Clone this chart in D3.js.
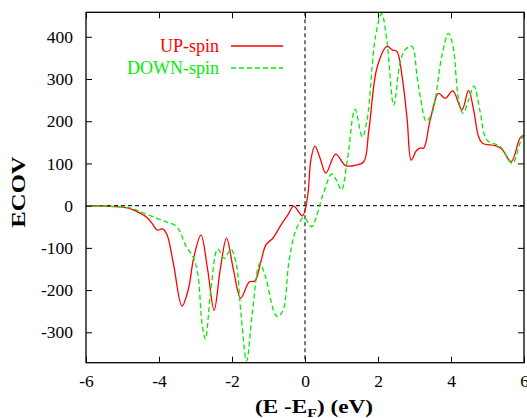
<!DOCTYPE html>
<html>
<head>
<meta charset="utf-8">
<script src="https://cdn.jsdelivr.net/npm/d3@7/dist/d3.min.js"></script>
<style>
  html, body { margin: 0; padding: 0; background: #fff; }
  svg { display: block; font-family: "Liberation Serif", "DejaVu Serif", serif; }
</style>
</head>
<body>
<svg id="chart" width="527" height="418"></svg>
<script>
// Energy axis (E - E_F, eV) and ECOV values for each spin channel
const upEnergy = [-6, -5.5, -4.87, -4.6, -4.33, -4.19, -4.05, -3.9, -3.78, -3.6, -3.37, -3.19, -3.05, -2.85, -2.67, -2.49, -2.32, -2.15, -1.96, -1.76, -1.53, -1.37, -1.21, -1.07, -0.87, -0.66, -0.47, -0.31, -0.07, 0.07, 0.16, 0.27, 0.4, 0.57, 0.84, 1.11, 1.39, 1.61, 1.75, 1.98, 2.25, 2.39, 2.52, 2.66, 2.8, 2.91, 3.05, 3.16, 3.25, 3.43, 3.66, 3.84, 4.05, 4.3, 4.48, 4.62, 4.75, 4.86, 5.21, 5.39, 5.65, 5.89, 6];
const upEcov = [0, -1, -5, -14, -28, -42, -58, -55, -69, -140, -238, -196, -124, -70, -150, -248, -150, -77, -152, -219, -181, -178, -133, -93, -76, -46, -22, -1, -24, 21, 108, 141, 116, 77, 122, 95, 96, 104, 179, 329, 377, 369, 365, 306, 203, 108, 130, 137, 136, 203, 266, 254, 272, 227, 273, 227, 165, 148, 142, 134, 104, 160, 168];

const downEnergy = [-6, -4.78, -4.42, -4.05, -3.78, -3.55, -3.42, -3.28, -3.07, -2.94, -2.82, -2.73, -2.58, -2.39, -2.21, -2.03, -1.89, -1.75, -1.6, -1.44, -1.24, -1.07, -0.85, -0.75, -0.6, -0.44, -0.25, -0.03, 0.18, 0.3, 0.43, 0.52, 0.73, 0.88, 1.0, 1.16, 1.37, 1.57, 1.7, 1.93, 2.1, 2.25, 2.43, 2.61, 2.75, 2.93, 3.07, 3.16, 3.32, 3.48, 3.75, 3.93, 4.05, 4.21, 4.33, 4.48, 4.63, 4.8, 4.98, 5.35, 5.68, 5.89, 6];
const downEcov = [0, -6, -18, -30, -39, -47, -62, -93, -121, -160, -280, -316, -200, -103, -125, -103, -135, -260, -368, -251, -137, -172, -251, -263, -247, -133, -58, -28, -50, -30, 10, 33, 75, 57, 37, 108, 228, 163, 203, 400, 455, 385, 238, 340, 370, 377, 306, 258, 200, 219, 355, 408, 380, 250, 219, 250, 283, 222, 156, 140, 100, 148, 168];

const xTicks = [-6, -4, -2, 0, 2, 4, 6];
const yTicks = [-300, -200, -100, 0, 100, 200, 300, 400];

const series = [
  { name: "UP-spin", color: "#ff0000", dash: null, x: upEnergy, y: upEcov },
  { name: "DOWN-spin", color: "#00ee00", dash: "5,3", x: downEnergy, y: downEcov }
];

const svg = d3.select("#chart");
const plotLeft = 86, plotRight = 524, plotTop = 12.3, plotBottom = 362.7;

const x = d3.scaleLinear().domain([-6, 6]).range([plotLeft, plotRight]);
const y = d3.scaleLinear().domain([-372, 458]).range([plotBottom, plotTop]);

svg.append("defs").append("clipPath").attr("id", "plotClip")
  .append("rect").attr("x", plotLeft).attr("y", plotTop)
  .attr("width", plotRight - plotLeft).attr("height", plotBottom - plotTop);

// Zero reference lines
svg.append("line")
  .attr("x1", plotLeft).attr("x2", plotRight).attr("y1", y(0)).attr("y2", y(0))
  .attr("stroke", "#222").attr("stroke-width", 1.2).attr("stroke-dasharray", "4,3");
svg.append("line")
  .attr("x1", x(0)).attr("x2", x(0)).attr("y1", plotTop).attr("y2", plotBottom)
  .attr("stroke", "#222").attr("stroke-width", 1.2).attr("stroke-dasharray", "4,3");

// Curves
const line = d3.line()
  .x(d => x(d[0]))
  .y(d => y(d[1]))
  .curve(d3.curveCatmullRom.alpha(0.5));

const plot = svg.append("g").attr("clip-path", "url(#plotClip)");
series.forEach(s => {
  plot.append("path")
    .datum(s.x.map((e, i) => [e, s.y[i]]))
    .attr("d", line)
    .attr("fill", "none")
    .attr("stroke", s.color)
    .attr("stroke-width", 1.3)
    .attr("stroke-dasharray", s.dash);
});

// Axes with inward ticks on all four sides
const tickLen = 6;
const fmt = d => String(d);
const axB = d3.axisBottom(x).tickValues(xTicks).tickSizeInner(-tickLen).tickSizeOuter(0).tickPadding(12).tickFormat(fmt);
const axT = d3.axisTop(x).tickValues(xTicks).tickSizeInner(-tickLen).tickSizeOuter(0).tickFormat("");
const axL = d3.axisLeft(y).tickValues(yTicks).tickSizeInner(-tickLen).tickSizeOuter(0).tickPadding(13).tickFormat(fmt);
const axR = d3.axisRight(y).tickValues(yTicks).tickSizeInner(-tickLen).tickSizeOuter(0).tickFormat("");

function styleAxis(g) {
  g.select(".domain").remove();
  g.selectAll(".tick line").attr("stroke", "#000").attr("stroke-width", 1);
  g.selectAll(".tick text")
    .attr("fill", "#000")
    .style("font-family", "'Liberation Serif', serif")
    .style("font-size", "17.5px");
}

svg.append("g").attr("transform", `translate(0,${plotBottom})`).call(axB).call(styleAxis);
svg.append("g").attr("transform", `translate(0,${plotTop})`).call(axT).call(styleAxis);
svg.append("g").attr("transform", `translate(${plotLeft},0)`).call(axL).call(styleAxis);
svg.append("g").attr("transform", `translate(${plotRight},0)`).call(axR).call(styleAxis);

// Frame
svg.append("rect")
  .attr("x", plotLeft).attr("y", plotTop)
  .attr("width", plotRight - plotLeft).attr("height", plotBottom - plotTop)
  .attr("fill", "none").attr("stroke", "#000").attr("stroke-width", 1.3);

// Legend
const legendRows = [46, 68];
series.forEach((s, i) => {
  svg.append("text")
    .attr("x", 219).attr("y", legendRows[i])
    .attr("dy", "0.35em")
    .attr("text-anchor", "end")
    .attr("fill", s.color)
    .style("font-size", "18px")
    .text(s.name);
  svg.append("line")
    .attr("x1", 231).attr("x2", 283)
    .attr("y1", legendRows[i]).attr("y2", legendRows[i])
    .attr("stroke", s.color).attr("stroke-width", 1.3)
    .attr("stroke-dasharray", s.dash);
});

// Axis titles (wide bold lettering)
const xTitle = svg.append("text")
  .attr("transform", "translate(314,413) scale(1.22,1)")
  .attr("text-anchor", "middle")
  .style("font-size", "19px").style("font-weight", "bold");
xTitle.append("tspan").text("(E -E");
xTitle.append("tspan").attr("dy", 4).style("font-size", "13px").text("F");
xTitle.append("tspan").attr("dy", -4).text(") (eV)");

svg.append("text")
  .attr("transform", "translate(25,192) rotate(-90) scale(1.3,1)")
  .attr("text-anchor", "middle")
  .style("font-size", "19px").style("font-weight", "bold")
  .text("ECOV");
</script>
</body>
</html>
